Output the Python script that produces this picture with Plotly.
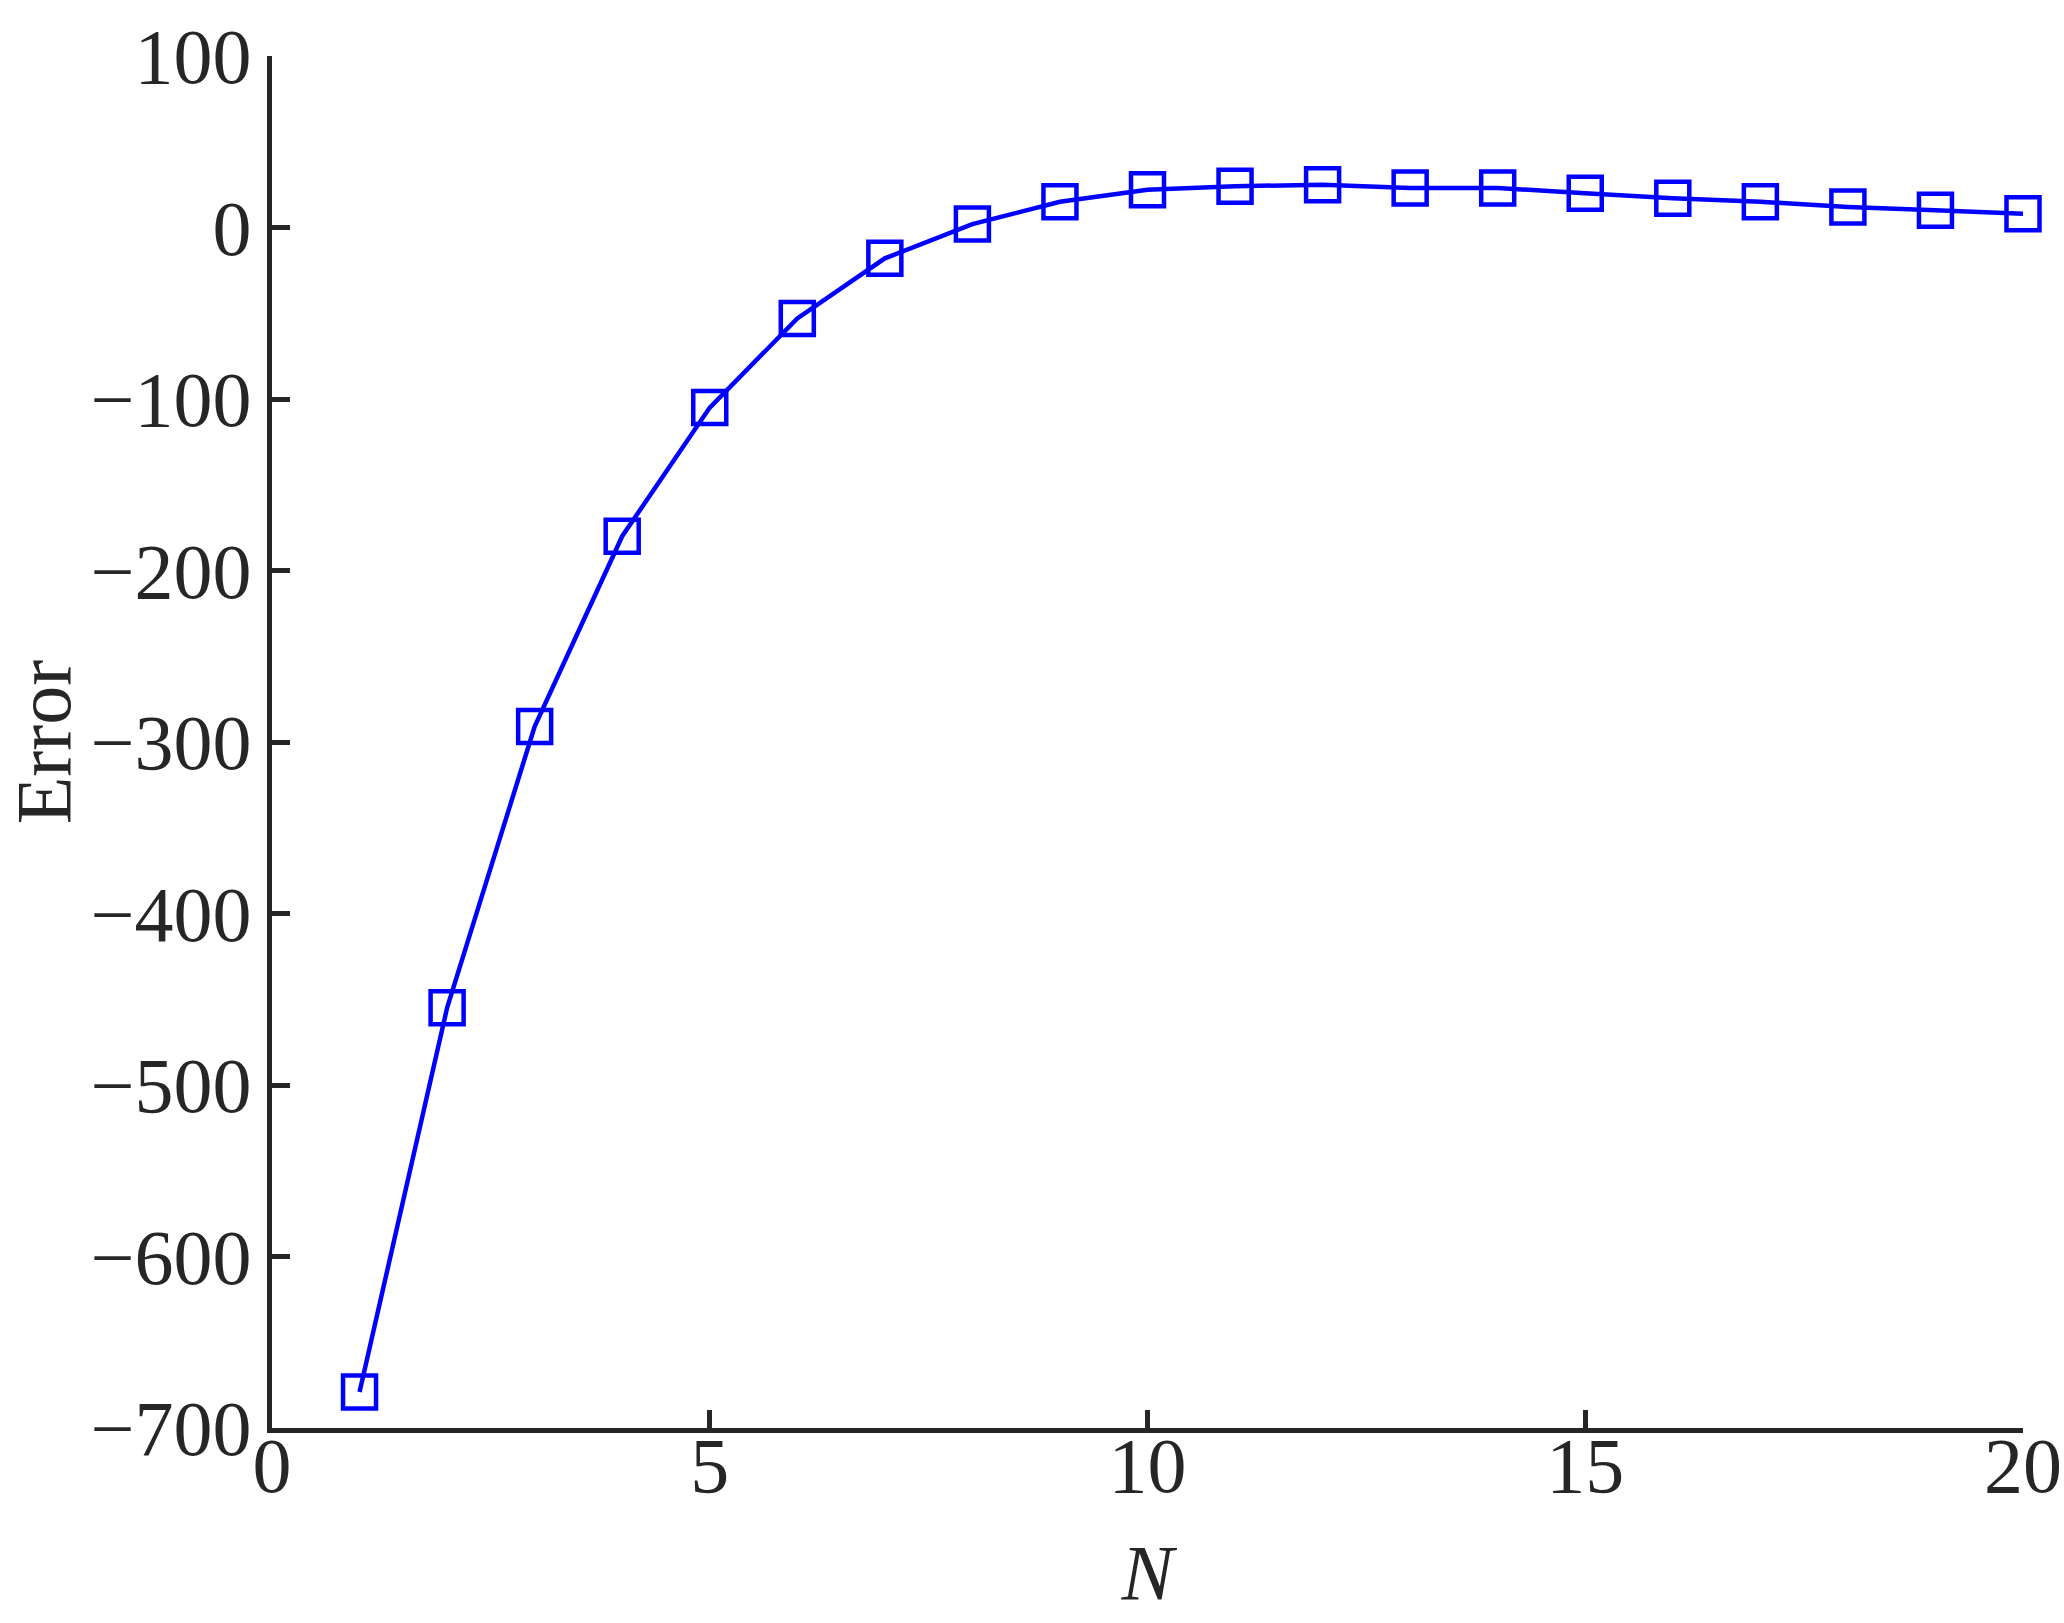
import plotly.graph_objects as go

N = list(range(1, 21))
error = [-679, -455, -291, -180, -105, -53, -18, 2, 15, 22, 24, 25, 23, 23, 20, 17, 15, 12, 10, 8]

x_ticks = [0, 5, 10, 15, 20]
y_ticks = [100, 0, -100, -200, -300, -400, -500, -600, -700]
y_tick_text = [str(v).replace("-", "\u2212") for v in y_ticks]

FONT = "Liberation Serif, Times New Roman, serif"
AX = "#262626"
FS = 78

fig = go.Figure()
fig.add_trace(go.Scatter(
    x=N, y=error, mode="lines+markers",
    line=dict(color="#0000FF", width=4.5),
    marker=dict(symbol="square-open", size=33, color="#0000FF",
                line=dict(color="#0000FF", width=4.5)),
    showlegend=False, cliponaxis=False,
))

fig.update_layout(
    width=2064, height=1623, autosize=False,
    paper_bgcolor="white", plot_bgcolor="white",
    margin=dict(l=272, r=41, t=56, b=195, pad=0),
    font=dict(family=FONT, size=FS, color=AX),
    xaxis=dict(
        range=[0, 20], tickvals=x_ticks, ticktext=[str(v) for v in x_ticks],
        showgrid=False, zeroline=False, showline=True, linecolor=AX, linewidth=5,
        ticks="inside", ticklen=18, tickwidth=5, tickcolor=AX,
        tickfont=dict(family=FONT, size=FS, color=AX),
        ticklabelstandoff=-35, automargin=False, ticklabeloverflow="allow",
        title=dict(text="<i>N</i>", font=dict(family=FONT, size=FS, color=AX), standoff=38),
    ),
    yaxis=dict(
        range=[-700, 100], tickvals=y_ticks, ticktext=y_tick_text,
        showgrid=False, zeroline=False, showline=True, linecolor=AX, linewidth=5,
        ticks="inside", ticklen=18, tickwidth=5, tickcolor=AX,
        tickfont=dict(family=FONT, size=FS, color=AX),
        ticklabelstandoff=0, automargin=False, ticklabeloverflow="allow",
        title=dict(text="Error", font=dict(family=FONT, size=FS, color=AX), standoff=0),
    ),
)

fig.write_html("out.html", config={"displayModeBar": False},
               post_script="document.body.style.margin='0';")
